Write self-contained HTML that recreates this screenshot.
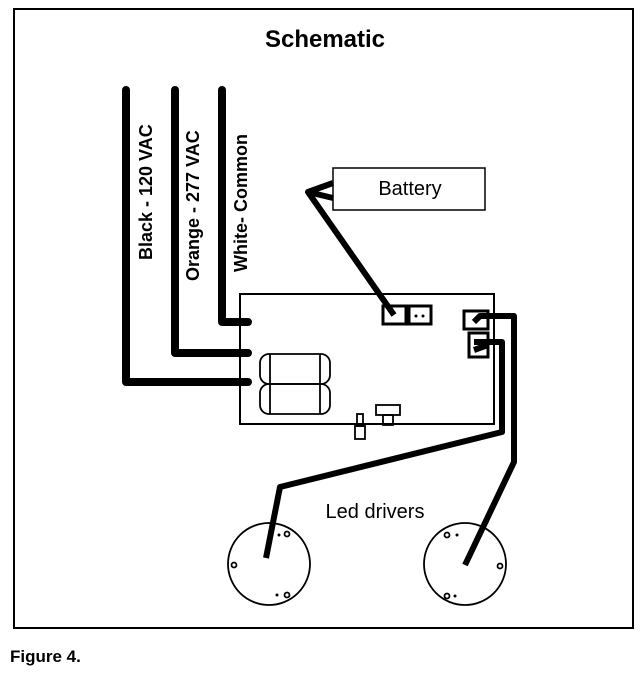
<!DOCTYPE html>
<html><head><style>
body{margin:0;background:#fff;width:642px;height:668px;overflow:hidden;font-family:"Liberation Sans",sans-serif}
</style></head><body>
<svg width="642" height="668" viewBox="0 0 642 668">
<rect x="14" y="9" width="619" height="619" fill="none" stroke="#000" stroke-width="2"/>
<text x="325" y="47" font-size="24" font-weight="bold" text-anchor="middle" font-family="Liberation Sans">Schematic</text>
<text x="10" y="662" font-size="17" font-weight="bold" font-family="Liberation Sans">Figure 4.</text>
<g fill="none" stroke="#000" stroke-width="8" stroke-linecap="round" stroke-linejoin="round">
<path d="M126 90V382H248"/>
<path d="M175 90V353H248"/>
<path d="M222 90V322H248"/>
</g>
<g font-size="18" font-weight="bold" font-family="Liberation Sans">
<text transform="translate(152,260) rotate(-90)">Black - 120 VAC</text>
<text transform="translate(199,281) rotate(-90)">Orange - 277 VAC</text>
<text transform="translate(247,272) rotate(-90)">White- Common</text>
</g>
<rect x="333" y="168" width="152" height="42" fill="none" stroke="#000" stroke-width="1.5"/>
<text x="410" y="195" font-size="20" text-anchor="middle" font-family="Liberation Sans">Battery</text>
<rect x="240" y="294" width="254" height="130" fill="none" stroke="#000" stroke-width="2"/>
<g fill="none" stroke="#000" stroke-width="1.8">
<rect x="260" y="354" width="70" height="30" rx="9"/>
<rect x="260" y="384" width="70" height="30" rx="9"/>
<line x1="270" y1="354" x2="270" y2="414"/><line x1="320" y1="354" x2="320" y2="414"/>
<rect x="376" y="405" width="24" height="10"/><rect x="383" y="415" width="10" height="10"/>
<rect x="357" y="414" width="6" height="12"/><rect x="355" y="426" width="10" height="13"/>
<rect x="383" y="306" width="23" height="18" stroke-width="3"/>
<rect x="409" y="306" width="22" height="18" stroke-width="3"/>
<rect x="464" y="311" width="24" height="18" stroke-width="3"/>
<rect x="469" y="333" width="19" height="24" stroke-width="3"/>
</g>
<circle cx="416" cy="316" r="1.5"/><circle cx="423" cy="316" r="1.5"/>
<g fill="none" stroke="#000" stroke-width="6" stroke-linejoin="round">
<path d="M333 183L308 192L394 315"/>
<path d="M308 192L333 198"/>
<path d="M474 322L480 316H514V462L465 565"/>
<path d="M474 342H502V432L280 487L266 558"/>
<path d="M474 350L488 345"/>
</g>
<text x="375" y="518" font-size="20" text-anchor="middle" font-family="Liberation Sans">Led drivers</text>
<g fill="none" stroke="#000" stroke-width="1.8">
<circle cx="269" cy="564" r="41"/><circle cx="465" cy="564" r="41"/>
<circle cx="234" cy="565" r="2.5"/><circle cx="287" cy="534" r="2.5"/><circle cx="287" cy="595" r="2.5"/>
<circle cx="500" cy="566" r="2.5"/><circle cx="447" cy="535" r="2.5"/><circle cx="447" cy="596" r="2.5"/>
</g>
<circle cx="279" cy="535" r="1.5"/><circle cx="277" cy="595" r="1.5"/>
<circle cx="457" cy="535" r="1.5"/><circle cx="455" cy="596" r="1.5"/>
</svg>
</body></html>
